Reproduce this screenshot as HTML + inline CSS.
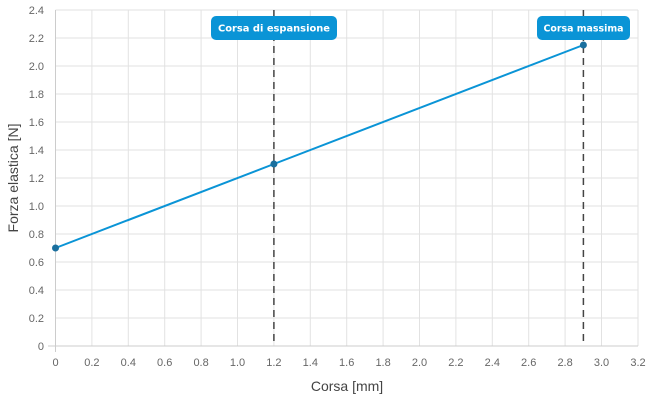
<!DOCTYPE html>
<html><head><style>
body{margin:0;background:#fff}
svg text{font-family:"Liberation Sans",sans-serif}
</style></head><body>
<svg width="650" height="400" xmlns="http://www.w3.org/2000/svg">
<g stroke="#e2e2e2" stroke-width="1">
<line x1="55.5" y1="10" x2="638" y2="10"/><line x1="55.5" y1="38" x2="638" y2="38"/><line x1="55.5" y1="66" x2="638" y2="66"/><line x1="55.5" y1="94" x2="638" y2="94"/><line x1="55.5" y1="122" x2="638" y2="122"/><line x1="55.5" y1="150" x2="638" y2="150"/><line x1="55.5" y1="178" x2="638" y2="178"/><line x1="55.5" y1="206" x2="638" y2="206"/><line x1="55.5" y1="234" x2="638" y2="234"/><line x1="55.5" y1="262" x2="638" y2="262"/><line x1="55.5" y1="290" x2="638" y2="290"/><line x1="55.5" y1="318" x2="638" y2="318"/>
<line x1="91.9" y1="10" x2="91.9" y2="346"/><line x1="128.3" y1="10" x2="128.3" y2="346"/><line x1="164.7" y1="10" x2="164.7" y2="346"/><line x1="201.1" y1="10" x2="201.1" y2="346"/><line x1="237.5" y1="10" x2="237.5" y2="346"/><line x1="273.9" y1="10" x2="273.9" y2="346"/><line x1="310.3" y1="10" x2="310.3" y2="346"/><line x1="346.7" y1="10" x2="346.7" y2="346"/><line x1="383.1" y1="10" x2="383.1" y2="346"/><line x1="419.5" y1="10" x2="419.5" y2="346"/><line x1="455.9" y1="10" x2="455.9" y2="346"/><line x1="492.3" y1="10" x2="492.3" y2="346"/><line x1="528.7" y1="10" x2="528.7" y2="346"/><line x1="565.1" y1="10" x2="565.1" y2="346"/><line x1="601.5" y1="10" x2="601.5" y2="346"/><line x1="638" y1="10" x2="638" y2="346"/>
</g>
<g stroke="#cccccc"><line x1="55.5" y1="10" x2="55.5" y2="352"/><line x1="48" y1="346" x2="638" y2="346"/></g>
<g font-size="11" fill="#666" text-anchor="end">
<text x="44" y="14">2.4</text><text x="44" y="42">2.2</text><text x="44" y="70">2.0</text><text x="44" y="98">1.8</text><text x="44" y="126">1.6</text><text x="44" y="154">1.4</text><text x="44" y="182">1.2</text><text x="44" y="210">1.0</text><text x="44" y="238">0.8</text><text x="44" y="266">0.6</text><text x="44" y="294">0.4</text><text x="44" y="322">0.2</text><text x="44" y="350">0</text>
</g>
<g font-size="11" fill="#666" text-anchor="middle">
<text x="55.5" y="366">0</text><text x="91.9" y="366">0.2</text><text x="128.3" y="366">0.4</text><text x="164.7" y="366">0.6</text><text x="201.1" y="366">0.8</text><text x="237.5" y="366">1.0</text><text x="273.9" y="366">1.2</text><text x="310.3" y="366">1.4</text><text x="346.7" y="366">1.6</text><text x="383.1" y="366">1.8</text><text x="419.5" y="366">2.0</text><text x="455.9" y="366">2.2</text><text x="492.3" y="366">2.4</text><text x="528.7" y="366">2.6</text><text x="565.1" y="366">2.8</text><text x="601.5" y="366">3.0</text><text x="638" y="366">3.2</text>
</g>
<text x="347" y="391" font-size="14" fill="#444" text-anchor="middle">Corsa [mm]</text>
<text transform="translate(18,178) rotate(-90)" font-size="14" fill="#444" text-anchor="middle">Forza elastica [N]</text>
<g stroke="#444" stroke-width="1.5" stroke-dasharray="7,5"><line x1="273.9" y1="10" x2="273.9" y2="346"/><line x1="583.4" y1="10" x2="583.4" y2="346"/></g>
<polyline points="55.5,248 273.9,164 583.4,45" fill="none" stroke="#0a94d6" stroke-width="2"/>
<g fill="#1a6f9e"><circle cx="55.5" cy="248" r="3.5"/><circle cx="273.9" cy="164" r="3.5"/><circle cx="583.4" cy="45" r="3.5"/></g>
<rect x="211" y="16" width="126" height="24" rx="5" fill="#0a94d6"/>
<text x="274" y="31.5" font-size="10" font-weight="bold" fill="#fff" text-anchor="middle" textLength="112" lengthAdjust="spacingAndGlyphs" style="font-family:'DejaVu Sans',sans-serif">Corsa di espansione</text>
<rect x="537" y="16" width="93" height="24" rx="5" fill="#0a94d6"/>
<text x="583.5" y="31.5" font-size="10" font-weight="bold" fill="#fff" text-anchor="middle" textLength="80" lengthAdjust="spacingAndGlyphs" style="font-family:'DejaVu Sans',sans-serif">Corsa massima</text>
</svg>
</body></html>
